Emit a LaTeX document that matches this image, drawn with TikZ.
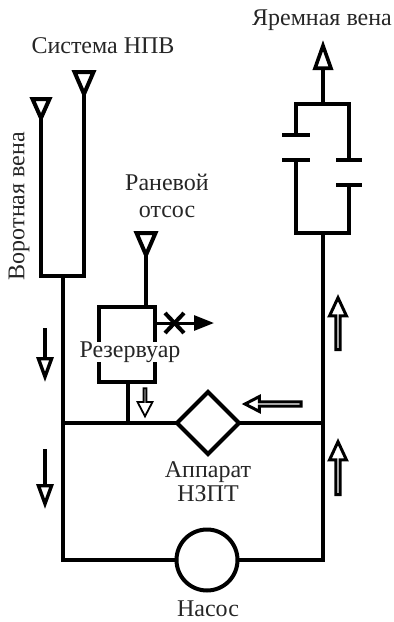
\documentclass[tikz,border=0pt]{standalone}
\usepackage{fontspec}
\setmainfont{Liberation Serif}
\usetikzlibrary{arrows.meta, shapes.geometric, shapes.arrows}

\begin{document}
\begin{tikzpicture}[x=1pt,y=-1pt,line width=4pt,line join=miter,
    every node/.style={inner sep=0pt,outer sep=0pt},
    lbl/.style={font=\fontsize{24}{27}\selectfont,text=black!85,align=center},
    intake/.style={draw,fill=white,isosceles triangle,isosceles triangle stretches,shape border rotate=270,minimum height=22pt,minimum width=19pt,anchor=apex},
    pipe/.style={line cap=butt},
    flow/.style={line width=3.4pt,-{Triangle[open,fill=white,length=25pt,width=17pt,line width=3.4pt]}},
    blockarrow/.style={draw,fill=white,single arrow,line width=3pt,minimum width=17pt,single arrow head extend=4.5pt,single arrow tip angle=50},
    smallblock/.style={draw,fill=white,single arrow,line width=1.8pt,minimum width=15pt,single arrow head extend=4pt,single arrow tip angle=55}]
    \useasboundingbox (0,0) rectangle (394,622);

    % main elements
    \node[draw,diamond,minimum width=62pt,minimum height=62pt,line width=4pt] (oxy) at (208,423) {};
    \node[draw,circle,minimum size=61pt,line width=4pt] (pump) at (207,560) {};
    \coordinate (lefttop) at (63,276);
    \coordinate (leftmid) at (63,423);
    \coordinate (leftbot) at (63,560);
    \coordinate (rightmid) at (323,423);
    \coordinate (rightbot) at (323,560);
    \coordinate (clamptop) at (323,104);
    \coordinate (clampbot) at (323,233);

    % venous lines
    \node[intake,minimum height=19pt,minimum width=17pt] (portal) at (41,118) {};
    \node[intake] (ivc) at (84,94) {};
    \node[intake] (wound) at (146,255) {};
    \draw[pipe] (portal.apex) -- (41,276) -- (84,276) -- (ivc.apex);
    \draw[pipe] (lefttop) -- (leftmid) -- (leftbot) -- (pump.west);
    \draw[pipe] (leftmid) -- (oxy.west);
    \draw[pipe] (oxy.east) -- (rightmid);
    \draw[pipe] (pump.east) -- (rightbot) -- (clampbot);

    % reservoir
    \coordinate (restop) at (146,307);
    \coordinate (resbot) at (127.5,382);
    \draw[pipe] (wound.apex) -- (restop);
    \draw[pipe] (99,307) rectangle (155,382);
    \draw[pipe] (resbot) -- (127.5,423);
    \node[lbl,fill=white,inner xsep=1pt] (resname) at (130,352) {Резервуар};

    % vent line
    \coordinate (ventstart) at (155,323);
    \coordinate (ventend) at (214,323);
    \coordinate (crossa) at (165,313);
    \coordinate (crossb) at (184,333);
    \coordinate (crossc) at (184,313);
    \coordinate (crossd) at (165,333);
    \draw[line width=3pt,-{Triangle[length=20pt,width=15pt]}] (ventstart) -- (ventend);
    \draw (crossa) -- (crossb);
    \draw (crossc) -- (crossd);

    % clamps
    \coordinate (jugular) at (323,40);
    \draw[pipe,-{Triangle[open,fill=white,length=30pt,width=20pt,line width=3.6pt]}] (clamptop) -- (jugular);
    \draw[pipe] (clampbot) -- (296,233) -- (296,160);
    \draw[pipe] (282,160) -- (310,160);
    \draw[pipe] (282,135) -- (310,135);
    \draw[pipe] (296,135) -- (296,104) -- (349,104) -- (349,160);
    \draw[pipe] (336,160) -- (362,160);
    \draw[pipe] (336,184.5) -- (362,184.5);
    \draw[pipe] (349,184.5) -- (349,233) -- (clampbot);

    % flow direction
    \coordinate (flowa) at (45,328);
    \coordinate (flowb) at (45,382);
    \coordinate (flowc) at (45,449);
    \coordinate (flowd) at (45,509);
    \draw[flow] (flowa) -- (flowb);
    \draw[flow] (flowc) -- (flowd);
    \node[blockarrow,minimum height=52pt,shape border rotate=90] (upa) at (338,326) {};
    \node[blockarrow,minimum height=53pt,shape border rotate=90] (upb) at (338,470.5) {};
    \node[smallblock,minimum height=28pt,shape border rotate=270] (downres) at (145,401) {};
    \node[smallblock,line width=3pt,minimum height=56pt,minimum width=15pt,shape border rotate=180] (leftoxy) at (275,404) {};

    % labels
    \node[lbl] (ivcname) at (103,46) {Система НПВ};
    \node[lbl] (jugname) at (322,20) {Яремная вена};
    \node[lbl,rotate=90] (portalname) at (19,206) {Воротная вена};
    \node[lbl] (woundname) at (167,196) {Раневой\\[0pt]отсос};
    \node[lbl] (oxyname) at (208,482) {Аппарат\\[-3pt]НЗПТ};
    \node[lbl] (pumpname) at (208,609) {Насос};
\end{tikzpicture}
\end{document}
